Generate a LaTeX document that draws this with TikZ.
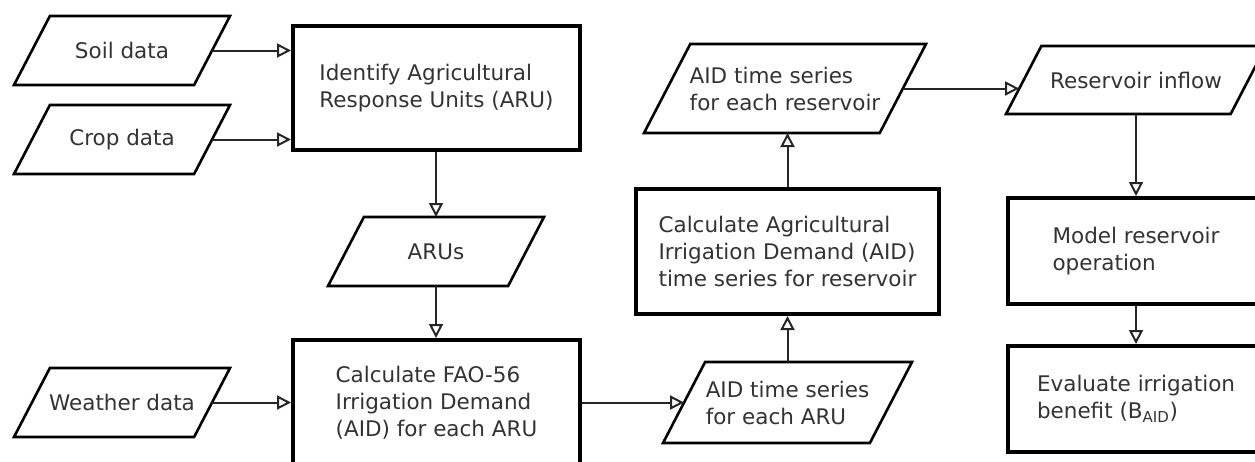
\documentclass[tikz,border=0pt]{standalone}
\usepackage{fontspec}
\setmainfont{DejaVu Sans}
\usetikzlibrary{arrows.meta,calc}
\newcommand\paranode[6]{%
  \node[ptext, minimum width=#4pt, minimum height=#5pt] (#1) at (#2,#3) {#6};
  \pgfmathsetmacro\myslant{#5*0.52}%
  \pgfmathsetmacro\myhslant{#5*0.26}%
  \draw[pline] (#1.south west) -- ([xshift=\myslant pt]#1.north west) -- (#1.north east)
     -- ([xshift=-\myslant pt]#1.south east) -- cycle;
  \coordinate (#1-tl) at ([xshift=\myslant pt]#1.north west);
  \coordinate (#1-l) at ([xshift=\myhslant pt]#1.west);
  \coordinate (#1-r) at ([xshift=-\myhslant pt]#1.east);
}
\begin{document}
\begin{tikzpicture}[x=1pt,y=-1pt,
  every node/.style={text=black!80, font=\fontsize{21.5}{27}\selectfont},
  ptext/.style={rectangle, draw=none, align=left, inner sep=0pt, outer sep=0pt},
  pline/.style={draw=black, line width=2.6pt, line join=miter},
  proc/.style={rectangle, draw=black, line width=4pt, align=left, inner sep=0pt},
  arr/.style={line width=2pt, draw=black!85,
    -{Triangle[open, length=14pt, width=14pt, line width=2pt]}}
]
\useasboundingbox (0,0) rectangle (1255,461);
\clip (0,0) rectangle (1255,461);

\paranode{soil}{122}{50.5}{216}{69}{Soil data}
\paranode{crop}{122}{139.5}{216}{69}{Crop data}
\paranode{weather}{122}{402.5}{216}{69}{Weather data}
\node[proc, minimum width=287pt, minimum height=124pt] (ident) at (436.5,88) {Identify Agricultural\\Response Units (ARU)};
\paranode{arus}{436}{251.5}{216}{69}{ARUs}
\node[proc, minimum width=287pt, minimum height=126pt] (fao) at (436.5,403) {Calculate FAO-56\\Irrigation Demand\\(AID) for each ARU};
\paranode{aidaru}{787.5}{402.5}{249}{81}{AID time series\\for each ARU}
\node[proc, minimum width=303pt, minimum height=125pt] (calcaid) at (787.5,251.5) {Calculate Agricultural\\Irrigation Demand (AID)\\time series for reservoir};
\paranode{aidres}{785}{88.5}{282}{89}{AID time series\\for each reservoir}
\paranode{inflow}{1136}{80}{260}{68}{Reservoir inflow}
\node[proc, minimum width=256pt, minimum height=106pt] (model) at (1136,251) {Model reservoir\\operation};
\node[proc, minimum width=256pt, minimum height=106pt] (eval) at (1136,399) {Evaluate irrigation\\benefit (B\textsubscript{AID})};

\draw[arr] (soil-r) -- (soil-r -| ident.west);
\draw[arr] (crop-r) -- (crop-r -| ident.west);
\draw[arr] (arus.center |- ident.south) -- (arus.north);
\draw[arr] (arus.south) -- (arus.center |- fao.north);
\draw[arr] (weather-r) -- (weather-r -| fao.west);
\draw[arr] (aidaru-l -| fao.east) -- (aidaru-l);
\draw[arr] (calcaid.south |- aidaru.north) -- (calcaid.south);
\draw[arr] (calcaid.north) -- (calcaid.north |- aidres.south);
\coordinate (inhit) at ($(inflow.south west)!0.371!(inflow-tl)$);
\draw[arr] (aidres-r) -- (aidres-r -| inhit);
\draw[arr] (inflow.south) -- (inflow.center |- model.north);
\draw[arr] (model.south) -- (eval.north);
\end{tikzpicture}
\end{document}
